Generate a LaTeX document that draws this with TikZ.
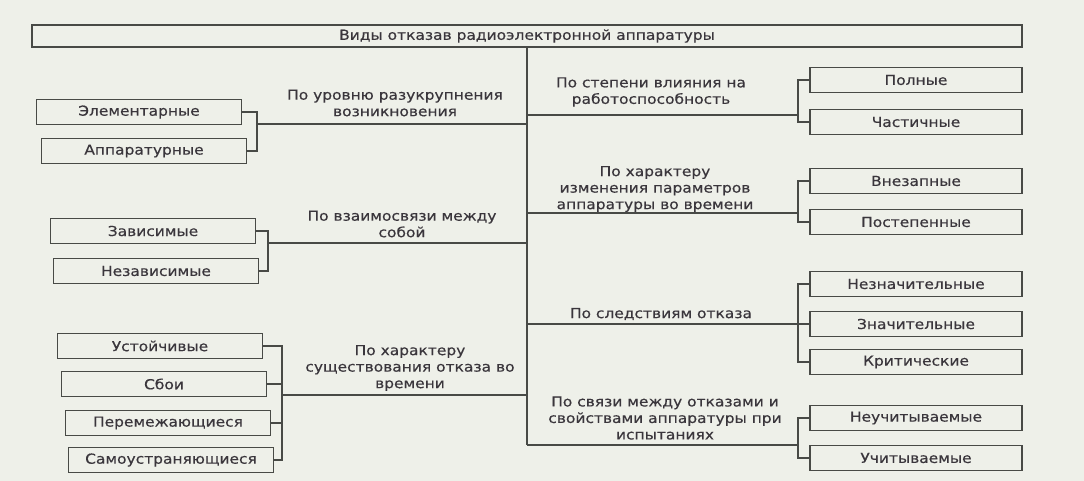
\documentclass[tikz,border=0pt]{standalone}
\usepackage{fontspec}
\setmainfont[FakeStretch=1.12,FakeBold=0.4]{DejaVu Sans}
\definecolor{lc}{RGB}{72,74,70}
\definecolor{tc}{RGB}{58,54,60}
\definecolor{bg}{RGB}{238,240,233}
\newcommand\fs{\fontsize{13.8}{16.5}\selectfont}
\begin{document}
\begin{tikzpicture}[x=1pt,y=-1pt,
  ln/.style={draw=lc, line width=1.3pt},
  box/.style={draw=lc, line width=1.3pt, minimum height=25pt, inner sep=0pt, text=tc, font=\fs},
  lbox/.style={box, minimum width=205pt},
  rbox/.style={box, minimum width=212pt},
  lab/.style={align=center, text=tc, font=\fs, inner sep=0pt}]
\useasboundingbox[fill=bg] (0,0) rectangle (1084,481);

% title
\node[box, minimum width=990pt, minimum height=22pt] (title) at (527,36) {Виды отказав радиоэлектронной аппаратуры};
\coordinate (cbot) at (527,445);
\draw[ln] (title.south) -- (cbot);

% left boxes
\node[lbox] (el) at (139,112) {Элементарные};
\node[lbox] (ap) at (144,151) {Аппаратурные};
\node[lbox] (za) at (153,231) {Зависимые};
\node[lbox] (nz) at (156,271) {Независимые};
\node[lbox] (us) at (160,346) {Устойчивые};
\node[lbox] (sb) at (164,384) {Сбои};
\node[lbox] (pe) at (168,423) {Перемежающиеся};
\node[lbox] (sa) at (171,460) {Самоустраняющиеся};

% right boxes
\node[rbox] (pl) at (916,80) {Полные};
\node[rbox] (ch) at (916,122) {Частичные};
\node[rbox] (vn) at (916,181) {Внезапные};
\node[rbox] (ps) at (916,222) {Постепенные};
\node[rbox] (nn) at (916,284) {Незначительные};
\node[rbox] (zn) at (916,324) {Значительные};
\node[rbox] (kr) at (916,362) {Критические};
\node[rbox] (nu) at (916,418) {Неучитываемые};
\node[rbox] (uc) at (916,458) {Учитываемые};

% left labels
\node[lab] (t1) at (395,103) {По уровню разукрупнения\\возникновения};
\node[lab] (t2) at (402,224) {По взаимосвязи между\\собой};
\node[lab] (t3) at (410,368) {По характеру\\существования отказа во\\времени};

% right labels
\node[lab] (t4) at (651,92) {По степени влияния на\\работоспособность};
\node[lab] (t5) at (655,189) {По характеру\\изменения параметров\\аппаратуры во времени};
\node[lab] (t6) at (661,314) {По следствиям отказа};
\node[lab] (t7) at (665,418) {По связи между отказами и\\свойствами аппаратуры при\\испытаниях};

% left connectors
\coordinate (L1) at (527,124); \coordinate (B1) at (257,124);
\coordinate (L2) at (527,243); \coordinate (B2) at (268,243);
\coordinate (L3) at (527,395); \coordinate (B3) at (282,395);
\draw[ln] (L1) -- (B1);
\draw[ln] (el.east) -| (B1) |- (ap.east);
\draw[ln] (L2) -- (B2);
\draw[ln] (za.east) -| (B2) |- (nz.east);
\draw[ln] (L3) -- (B3);
\draw[ln] (us.east) -| (B3) |- (sa.east);
\draw[ln] (sb.east) -- (sb.east -| B3);
\draw[ln] (pe.east) -- (pe.east -| B3);

% right connectors
\coordinate (R1) at (527,115); \coordinate (D1) at (798,115);
\coordinate (R2) at (527,213); \coordinate (D2) at (798,213);
\coordinate (R3) at (527,324); \coordinate (D3) at (798,324);
\coordinate (R4) at (527,445); \coordinate (D4) at (798,445);
\draw[ln] (R1) -- (D1);
\draw[ln] (pl.west) -| (D1) |- (ch.west);
\draw[ln] (R2) -- (D2);
\draw[ln] (vn.west) -| (D2) |- (ps.west);
\draw[ln] (R3) -- (D3);
\draw[ln] (nn.west) -| (D3) |- (kr.west);
\draw[ln] (zn.west) -- (D3);
\draw[ln] (cbot) -- (D4);
\draw[ln] (nu.west) -| (D4) |- (uc.west);
\end{tikzpicture}
\end{document}
